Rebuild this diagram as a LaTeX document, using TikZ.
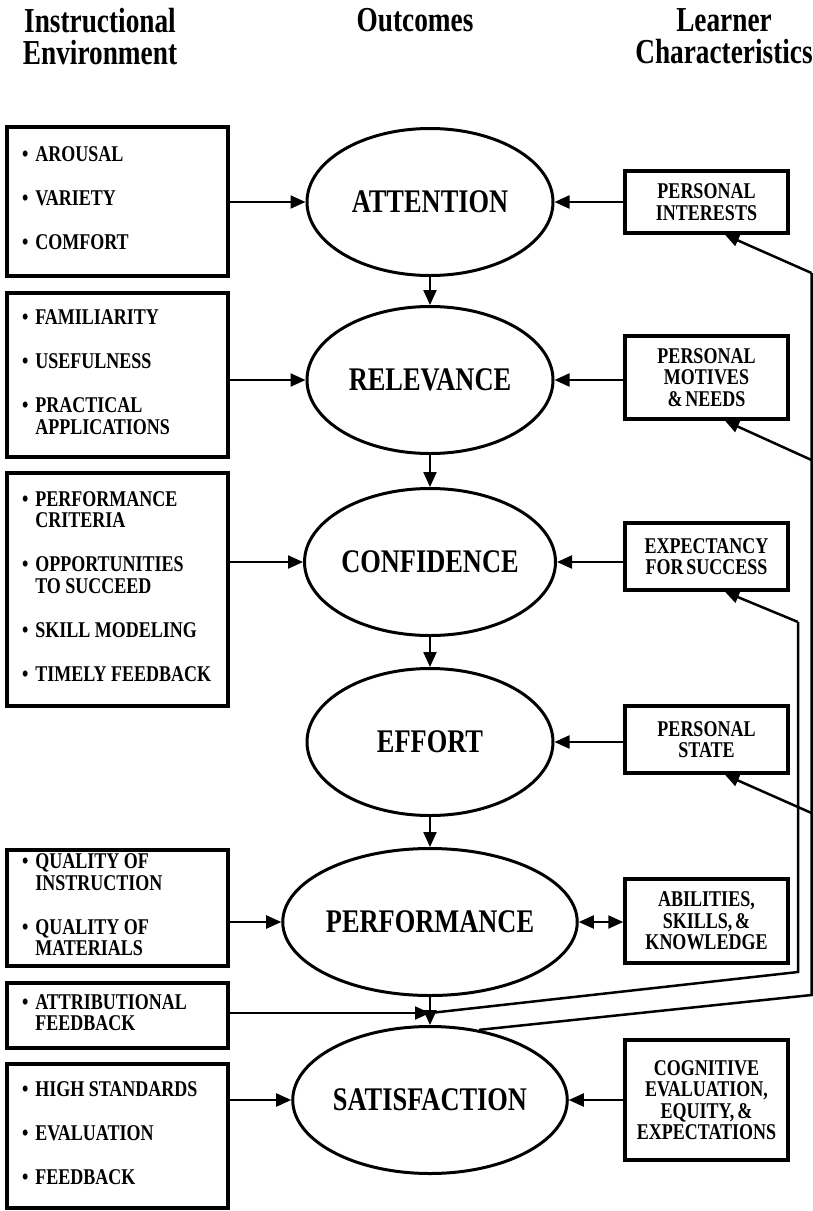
\documentclass[tikz,border=0pt]{standalone}
\usepackage{fontspec}
\setmainfont{Liberation Serif}[FakeStretch=0.8,WordSpace=0.65]
\newfontfamily\hdrfont{Liberation Serif}[FakeStretch=0.78,WordSpace=0.7]
\usetikzlibrary{shapes.geometric,arrows.meta}
\newcommand{\bi}{\textbullet}
\newcommand{\itemgap}{\\[22.5pt]}
\newcommand{\blist}[1]{\spaceskip=4.5pt\relax\begin{tabular}{@{}l@{\hspace{7pt}}l@{}}#1\end{tabular}}
\begin{document}
\begin{tikzpicture}[x=1pt,y=-1pt,
 box/.style={draw,line width=3.5pt},
 lbox/.style={box, minimum width=221pt, text width=191pt, inner xsep=15pt, inner ysep=0pt, align=left, font=\fontsize{22.5}{21.5}\selectfont\bfseries},
 rbox/.style={box, minimum width=163pt, inner sep=0pt, align=center, font=\fontsize{22.5}{21.5}\selectfont\bfseries},
 oval/.style={ellipse, draw, line width=3pt, minimum width=246pt, minimum height=147pt, inner sep=0pt, font=\fontsize{33}{36}\selectfont\bfseries},
 hdr/.style={align=center, inner sep=0pt, font=\hdrfont\fontsize{35}{32}\selectfont\bfseries},
 con/.style={line width=2.2pt, -{Triangle[length=15pt,width=13pt]}},
 dcon/.style={line width=2.2pt, {Triangle[length=15pt,width=13pt]}-{Triangle[length=15pt,width=13pt]}},
 fb/.style={line width=2.5pt},
 fbarr/.style={line width=2.5pt, -{Triangle[length=14pt,width=12pt]}}
]
\useasboundingbox (0,0) rectangle (812,1211);

% headers
\node[hdr] (h1) at (100,36.4) {Instructional\\Environment};
\node[hdr] (h2) at (415,20.5) {Outcomes};
\node[hdr] (h3) at (724,36.4) {Learner\\Characteristics};

% outcomes
\node[oval] (att) at (430,202) {ATTENTION};
\node[oval] (rel) at (430,380) {RELEVANCE};
\node[oval] (conf) at (430,562) {CONFIDENCE};
\node[oval] (eff) at (430,742) {EFFORT};
\node[oval] (perf) at (430,922) {PERFORMANCE};
\node[oval] (sat) at (430,1100) {SATISFACTION};

% instructional environment
\node[lbox, minimum height=149pt] (b1) at (117.5,201.5) {\blist{\bi & AROUSAL\itemgap \bi & VARIETY\itemgap \bi & COMFORT}};
\node[lbox, minimum height=164pt] (b2) at (117.5,375) {\blist{\bi & FAMILIARITY\itemgap \bi & USEFULNESS\itemgap \bi & PRACTICAL\\ & APPLICATIONS}};
\node[lbox, minimum height=233pt] (b3) at (117.5,589.5) {\blist{\bi & PERFORMANCE\\ & CRITERIA\itemgap \bi & OPPORTUNITIES\\ & TO SUCCEED\itemgap \bi & SKILL MODELING\itemgap \bi & TIMELY FEEDBACK}};
\node[lbox, minimum height=116pt] (b5) at (117.5,908) {\blist{\bi & QUALITY OF\\ & INSTRUCTION\itemgap \bi & QUALITY OF\\ & MATERIALS}};
\node[lbox, minimum height=65pt] (b6) at (117.5,1015.5) {\blist{\bi & ATTRIBUTIONAL\\ & FEEDBACK}};
\node[lbox, minimum height=144pt] (b7) at (117.5,1136) {\blist{\bi & HIGH STANDARDS\itemgap \bi & EVALUATION\itemgap \bi & FEEDBACK}};

% learner characteristics
\node[rbox, minimum height=62pt] (r1) at (706.5,202) {PERSONAL\\INTERESTS};
\node[rbox, minimum height=83pt] (r2) at (706.5,377.5) {PERSONAL\\MOTIVES\\\& NEEDS};
\node[rbox, minimum height=67pt] (r3) at (706.5,556.5) {EXPECTANCY\\FOR SUCCESS};
\node[rbox, minimum height=67pt] (r4) at (706.5,739.5) {PERSONAL\\STATE};
\node[rbox, minimum height=84pt] (r5) at (706.5,921) {ABILITIES,\\SKILLS, \&\\KNOWLEDGE};
\node[rbox, minimum height=120pt] (r6) at (706.5,1100) {COGNITIVE\\EVALUATION,\\EQUITY, \&\\EXPECTATIONS};

% coordinates for feedback paths
\coordinate (jn) at (430,1013);
\coordinate (ic) at (798,972);
\coordinate (it) at (798,622);
\coordinate (ob) at (811.5,995);
\coordinate (ot) at (811.5,273);
\coordinate (o2) at (811.5,460);
\coordinate (o4) at (811.5,813);
\coordinate (tx) at (725,0);

% vertical flow
\draw[con] (att.south) -- (rel.north);
\draw[con] (rel.south) -- (conf.north);
\draw[con] (conf.south) -- (eff.north);
\draw[con] (eff.south) -- (perf.north);
\draw[con] (perf.south) -- (sat.north);

% left inputs
\draw[con] (b1.east |- att) -- (att.west);
\draw[con] (b2.east |- rel) -- (rel.west);
\draw[con] (b3.east |- conf) -- (conf.west);
\draw[con] (b5.east |- perf) -- (perf.west);
\draw[con] (b6.east |- jn) -- (jn);
\draw[con] (b7.east |- sat) -- (sat.west);

% right inputs
\draw[con] (r1.west |- att) -- (att.east);
\draw[con] (r2.west |- rel) -- (rel.east);
\draw[con] (r3.west |- conf) -- (conf.east);
\draw[con] (r4.west |- eff) -- (eff.east);
\draw[dcon] (perf.east) -- (r5.west |- perf);
\draw[con] (r6.west |- sat) -- (sat.east);

% feedback
\draw[fb] (jn) -- (ic) -- (it);
\draw[fbarr] (it) -- (r3.south -| tx);
\draw[fb] (sat.55) -- (ob) -- (ot);
\draw[fbarr] (ot) -- (r1.south -| tx);
\draw[fbarr] (o2) -- (r2.south -| tx);
\draw[fbarr] (o4) -- (r4.south -| tx);
\end{tikzpicture}
\end{document}
